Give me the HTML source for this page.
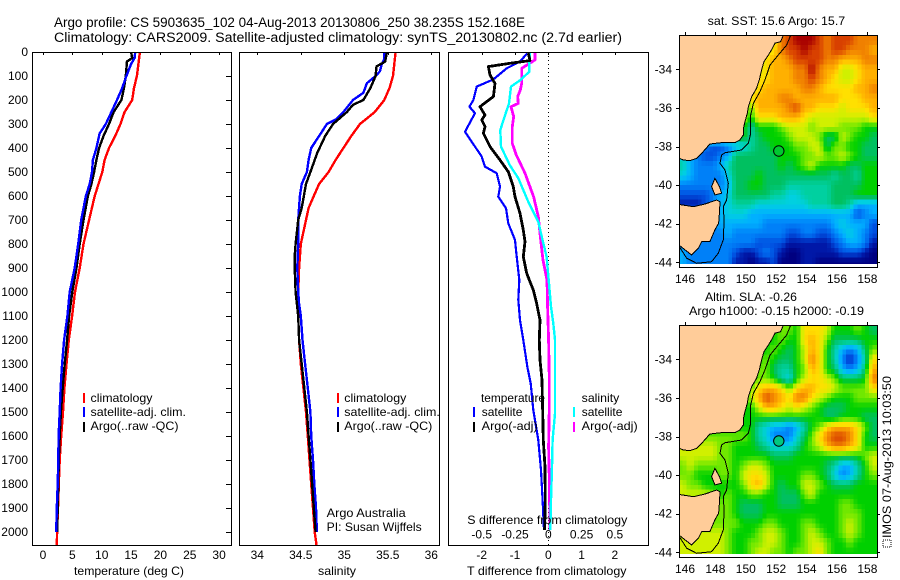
<!DOCTYPE html>
<html>
<head>
<meta charset="utf-8">
<title>Argo profile 5903635_102</title>
<style>
html,body{margin:0;padding:0;background:#fff;}
svg{display:block;font-family:"Liberation Sans",Arial,sans-serif;font-size:12px;fill:#000;}
</style>
</head>
<body>
<svg id="fig" width="900" height="580" viewBox="0 0 900 580" xmlns="http://www.w3.org/2000/svg">
<defs>
<clipPath id="clipT"><rect x="32" y="52" width="199" height="493"/></clipPath>
<clipPath id="clipS"><rect x="239" y="52" width="201" height="493"/></clipPath>
<clipPath id="clipD"><rect x="448" y="52" width="200" height="493"/></clipPath>
<clipPath id="clipM1"><rect x="679" y="35" width="198" height="229"/></clipPath>
<clipPath id="clipM2"><rect x="679" y="325" width="198" height="229"/></clipPath>
</defs>
<text x="54" y="27" font-size="13.5" textLength="471" lengthAdjust="spacingAndGlyphs">Argo profile: CS 5903635_102 04-Aug-2013 20130806_250 38.235S 152.168E</text>
<text x="54" y="42" font-size="13.5" textLength="568" lengthAdjust="spacingAndGlyphs">Climatology: CARS2009. Satellite-adjusted climatology: synTS_20130802.nc (2.7d earlier)</text>
<g id="layer"></g>
<text x="74" y="575" textLength="110" lengthAdjust="spacingAndGlyphs">temperature (deg C)</text>
<text x="318" y="575" textLength="38" lengthAdjust="spacingAndGlyphs">salinity</text>
<text x="467" y="575" textLength="159.500" lengthAdjust="spacingAndGlyphs">T difference from climatology</text>
<text x="467.300" y="524" textLength="160" lengthAdjust="spacingAndGlyphs">S difference from climatology</text>
<text x="326.700" y="517" textLength="79" lengthAdjust="spacingAndGlyphs">Argo Australia</text>
<text x="326.700" y="531" textLength="95" lengthAdjust="spacingAndGlyphs">PI: Susan Wijffels</text>
<text x="707.700" y="25" textLength="137.500" lengthAdjust="spacingAndGlyphs">sat. SST: 15.6 Argo: 15.7</text>
<text x="705" y="301" textLength="92" lengthAdjust="spacingAndGlyphs">Altim. SLA: -0.26</text>
<text x="689" y="315" textLength="175" lengthAdjust="spacingAndGlyphs">Argo h1000: -0.15 h2000: -0.19</text>
<rect x="883" y="540" width="8" height="7" fill="none" stroke="#000" stroke-width="1" stroke-dasharray="1 1"/>
<text transform="translate(891,538) rotate(-90)" textLength="162" lengthAdjust="spacingAndGlyphs">IMOS 07-Aug-2013 10:03:50</text>
</svg>
<script>
// ---------- profile data: temperature panel ----------
const tClimDepth=[0,50,100,150,200,250,300,350,400,450,500,600,700,800,900,1000,1100,1200,1300,1400,1500,1600,1700,1800,1900,2000,2054];
const tClimValue=[16.5,16.25,16,15.5,15.2,13.9,13.2,12.3,11.25,10.5,10.1,8.8,7.85,6.9,6.25,5.45,4.95,4.4,4,3.65,3.4,3.1,2.85,2.7,2.55,2.4,2.35];
const tSatDepth=[0,25,50,100,150,200,250,300,340,400,450,500,550,600,700,800,900,1000,1100,1200,1300,1400,1500,1600,1700,1800,1900,2000];
const tSatValue=[15.7,15.6,15,14.2,13.5,12.6,11.65,10.7,9.65,9.1,8.5,8.35,7.95,7.3,6.5,6,5.4,4.55,4.15,3.6,3.25,3,2.85,2.65,2.6,2.5,2.35,2.25];
const tArgoDepth=[0,25,40,70,100,150,200,250,300,350,400,450,500,550,600,700,800,900,1000,1100,1200,1300,1400,1500,1600,1700,1800,1900,2000];
const tArgoValue=[15,15.2,14.3,14.2,14.1,13.8,13.35,12.05,11.25,10.3,9.55,9.1,8.7,8.25,7.65,6.9,6.25,5.7,5,4.45,4.1,3.7,3.35,3.05,2.85,2.7,2.6,2.5,2.4];
// ---------- profile data: salinity panel ----------
const sClimDepth=[0,100,150,200,250,300,350,400,450,500,550,600,650,700,800,900,1000,1100,1200,1300,1400,1500,1600,1700,1800,1900,2000,2054];
const sClimValue=[35.59,35.56,35.52,35.46,35.35,35.18,35.08,34.99,34.9,34.82,34.71,34.65,34.59,34.56,34.5,34.48,34.47,34.47,34.48,34.5,34.53,34.56,34.58,34.6,34.62,34.64,34.66,34.68];
const sSatDepth=[0,30,50,80,100,130,170,200,250,280,300,350,400,450,500,550,600,700,800,900,1000,1050,1100,1200,1300,1400,1500,1600,1700,1800,1900,2000];
const sSatValue=[35.46,35.46,35.43,35.41,35.36,35.26,35.22,35.1,34.99,34.91,34.8,34.71,34.62,34.59,34.57,34.51,34.49,34.47,34.47,34.46,34.47,34.48,34.5,34.52,34.55,34.58,34.61,34.62,34.64,34.655,34.675,34.685];
const sArgoDepth=[0,40,60,100,150,200,220,250,300,350,420,500,550,650,700,800,850,900,1000,1100,1200,1300,1400,1500,1600,1700,1800,1900,2000];
const sArgoValue=[35.49,35.47,35.37,35.36,35.3,35.22,35.1,35.03,34.87,34.78,34.69,34.61,34.56,34.51,34.47,34.44,34.43,34.43,34.44,34.47,34.48,34.51,34.54,34.57,34.59,34.61,34.63,34.65,34.67];
// ---------- profile data: difference panel ----------
const dtSatDepth=[5,40,68,114,144,200,228,255,332,380,436,478,505,561,603,651,714,783,853,950,1033,1117,1200,1311,1381,1492,1617,1742,1867,1992];
const dtSatValue=[-0.63,-0.85,-1.25,-1.65,-2.15,-2.25,-2.37,-2.2,-2.5,-2.27,-2,-1.9,-1.55,-1.45,-1.5,-1.27,-1.2,-1,-0.95,-0.87,-0.9,-0.85,-0.75,-0.63,-0.53,-0.45,-0.3,-0.22,-0.17,-0.13];
const dtArgoDepth=[5,36,47,61,96,131,186,228,263,283,311,339,394,450,499,561,603,672,742,790,853,922,992,1047,1117,1200,1283,1367,1478,1617,1728,1867,1992];
const dtArgoValue=[-0.6,-0.55,-1.15,-1.8,-1.75,-1.6,-1.65,-2.05,-1.9,-2,-1.9,-1.95,-1.75,-1.45,-1.2,-1.05,-1,-0.85,-0.75,-0.7,-0.75,-0.65,-0.45,-0.35,-0.25,-0.27,-0.25,-0.19,-0.17,-0.15,-0.1,-0.09,-0.11];
const dsSatDepth=[5,47,82,117,144,214,255,325,394,471,526,624,707,797,853,964,1061,1131,1200,1381,1506,1617,1728,1867,1992];
const dsSatValue=[-0.1375,-0.1425,-0.1425,-0.21,-0.28,-0.295,-0.32,-0.36,-0.355,-0.29,-0.225,-0.15,-0.075,-0.0375,-0.0125,0.005,0.02,0.0375,0.05,0.05,0.05,0.0325,0.0275,0.02,0.015];
const dsArgoDepth=[5,33,68,131,158,186,214,228,269,311,381,429,505,603,686,769,867,950,1061,1200,1367,1478,1644,1783,1992];
const dsArgoValue=[-0.1,-0.1,-0.2,-0.2,-0.21,-0.23,-0.225,-0.28,-0.26,-0.27,-0.27,-0.24,-0.175,-0.11,-0.075,-0.06,-0.04,-0.01,-0.005,0.0025,0.0075,0.0075,0.0025,0.0075,0.0125];
// ---------- tick labels ----------
const depthTicks=[0,100,200,300,400,500,600,700,800,900,1000,1100,1200,1300,1400,1500,1600,1700,1800,1900,2000];
const tempTicks=[0,5,10,15,20,25,30];
const salTicks=[34,34.5,35,35.5,36];
const dtTicks=[-2,-1,0,1,2];
const dsTicks=[-0.5,-0.25,0,0.25,0.5];
const lonTicks=[146,148,150,152,154,156,158];
const latTicks=[-34,-36,-38,-40,-42,-44];
// ---------- map data (colour level per half-degree cell, north to south) ----------
const sstLevels=[
[10,10,10,10,10,10,10,10,10,10,10,10,10,13,14,15,15,15,14,13,14,14,14,13,13,13],
[10,10,10,10,10,10,10,10,10,10,10,10,11,13,14,14,15,14,14,13,14,14,13,13,13,12],
[10,10,10,10,10,10,10,10,10,10,10,11,12,12,13,14,14,14,14,13,13,12,12,12,13,13],
[10,10,10,10,10,10,10,10,10,10,10,11,12,12,12,13,13,15,13,12,12,10,10,11,12,12],
[10,10,10,10,10,10,10,10,10,10,11,11,12,12,12,13,13,14,13,12,11,10,10,11,12,12],
[10,10,10,10,10,10,10,10,10,10,11,12,12,12,12,12,13,13,12,11,11,11,11,12,12,13],
[10,10,10,10,10,10,10,10,10,11,12,12,12,13,13,12,12,12,12,12,12,11,11,11,12,12],
[10,10,10,10,10,10,10,10,10,9,12,12,12,12,13,14,12,12,11,11,11,10,11,11,11,12],
[10,10,10,10,10,10,10,10,10,8,11,11,11,12,12,12,11,10,10,10,10,10,10,10,10,11],
[8,8,8,8,8,8,8,8,8,6,8,8,8,9,10,10,10,9,10,10,10,9,9,9,8,8],
[8,8,8,8,8,8,8,8,8,6,7,8,8,8,9,10,10,10,9,7,7,10,9,8,8,7],
[3,3,3,3,2,2,3,4,5,6,7,7,8,8,8,9,9,10,10,7,9,9,8,8,7,7],
[5,4,3,2,2,3,4,7,7,7,7,7,7,8,8,8,9,9,10,9,9,10,9,8,7,7],
[6,4,3,3,3,4,6,7,7,7,7,7,7,8,7,8,9,10,8,8,8,8,7,7,8,8],
[5,4,3,3,3,3,5,7,7,7,8,7,7,7,7,7,7,7,7,7,6,7,7,6,8,8],
[3,3,3,3,3,3,4,7,7,8,8,7,7,7,6,6,6,6,6,6,7,7,7,7,8,8],
[2,2,2,2,3,4,5,7,7,7,7,7,6,6,5,5,6,6,6,6,7,7,7,8,8,8],
[1,1,1,2,3,4,5,6,6,6,5,5,5,5,5,5,5,6,6,6,7,7,6,4,4,4],
[3,3,3,3,3,4,5,5,5,4,4,4,4,4,4,4,4,4,4,4,4,4,4,2,3,4],
[3,3,3,3,3,4,4,4,4,4,4,3,3,3,3,3,3,3,3,3,4,5,4,4,4,2],
[3,3,3,3,3,3,4,3,3,3,3,3,3,3,2,2,3,3,2,2,3,4,5,4,3,2],
[3,3,3,3,3,3,3,3,3,3,2,2,2,2,1,1,1,1,1,1,2,3,4,4,3,1],
[4,3,3,3,3,3,3,2,1,1,2,3,2,1,0,0,1,1,1,1,1,2,2,2,1,0],
[4,3,3,3,3,3,3,1,1,0,1,1,2,0,0,0,1,1,0,0,0,0,0,0,0,0]];
const slaLevels=[
[8,8,8,8,8,8,8,8,8,8,8,8,8,9,9,8,11,11,11,10,8,8,8,9,8,7],
[8,8,8,8,8,8,8,8,8,8,8,8,8,9,8,8,11,12,11,9,7,7,7,7,8,8],
[8,8,8,8,8,8,8,8,8,8,8,8,9,8,7,8,10,12,11,8,6,4,3,4,7,9],
[8,8,8,8,8,8,8,8,8,8,8,9,8,7,7,8,10,13,11,8,6,3,1,3,6,11],
[8,8,8,8,8,8,8,8,8,8,9,9,7,6,6,8,9,12,11,8,7,4,3,4,7,12],
[8,8,8,8,8,8,8,8,8,8,9,9,8,6,5,8,10,11,11,10,9,7,7,7,8,13],
[8,8,8,8,8,8,8,8,8,9,11,12,12,11,9,11,12,12,11,11,10,9,9,9,9,11],
[8,8,8,8,8,8,8,8,8,10,12,14,13,12,11,13,13,11,10,9,8,8,8,9,9,9],
[8,8,8,8,8,8,8,8,8,8,10,12,12,11,10,11,10,9,8,7,7,7,8,8,8,8],
[8,8,8,8,8,8,8,8,8,8,8,8,8,8,8,8,8,8,8,7,7,8,8,8,7,7],
[8,8,8,8,8,8,8,8,8,8,6,5,4,4,3,4,6,8,9,11,12,12,12,11,9,7],
[9,9,9,9,9,9,9,9,9,8,6,5,3,3,3,5,7,9,11,13,14,14,13,11,8,7],
[10,10,10,10,10,9,9,8,8,8,7,6,5,5,5,6,8,9,10,12,13,13,12,11,8,8],
[10,10,10,10,10,9,9,8,8,8,8,8,7,7,7,8,8,8,8,8,8,8,8,8,9,10],
[9,10,9,9,9,9,9,8,9,10,10,9,8,8,8,8,8,8,8,7,6,4,4,6,8,10],
[9,9,8,8,8,9,9,8,10,11,11,10,8,8,8,8,9,9,8,7,5,3,4,6,8,9],
[10,9,9,8,8,8,8,8,9,11,12,10,8,7,8,8,10,10,9,8,7,7,7,8,8,8],
[10,10,10,10,9,8,9,8,8,9,9,8,8,7,7,7,9,10,8,8,8,8,8,8,8,8],
[9,9,9,9,9,9,9,8,7,7,7,8,8,7,7,7,8,8,8,8,8,9,9,8,8,8],
[9,9,9,9,9,9,9,8,7,7,7,8,8,8,8,8,8,8,8,8,8,9,9,9,8,8],
[9,9,9,9,9,9,9,9,8,8,8,9,9,8,8,8,9,9,8,8,8,9,10,9,8,8],
[10,10,10,10,10,10,9,8,8,8,9,10,10,9,8,8,9,10,9,8,8,9,10,9,8,8],
[10,10,10,10,10,10,9,8,8,9,9,10,10,9,8,8,9,10,10,9,8,8,9,8,8,8],
[10,10,10,10,10,10,9,8,8,9,10,10,9,9,8,9,9,10,11,9,8,8,8,8,8,8]];
const levelColors=[[0,0,128],[0,24,168],[0,80,224],[0,128,248],[0,176,255],[0,208,224],[0,208,160],[0,192,96],[0,208,0],[112,232,0],[208,240,0],[255,224,0],[255,176,0],[240,128,0],[216,64,0],[168,0,0]];
const sstMarkerLevel=7.5;
const slaMarkerLevel=6.5;
// ---------- map geography (lon / lat) ----------
const mainlandLon=[152.47,152.29,151.92,151.7,151.42,151.2,151.04,150.89,150.71,150.39,150.17,150.1,149.95,149.84,149.84,149.62,149.29,148.41,147.64,147.1,146.77,146.33,145.89,145.63,145.6];
const mainlandLat=[-32.24,-32.57,-32.65,-32.99,-33.34,-33.6,-34.03,-34.55,-34.98,-35.42,-35.93,-36.28,-36.71,-37.06,-37.4,-37.66,-37.8,-37.8,-37.87,-38.35,-38.61,-38.73,-38.7,-38.61,-32.24];
const tasmaniaLon=[145.6,146.55,147.32,148.08,148.3,148.26,148.21,147.97,147.64,147.1,146.88,146.44,146,145.6];
const tasmaniaLat=[-41,-41.12,-40.98,-40.77,-40.86,-41.46,-41.98,-42.32,-42.93,-42.93,-43.27,-43.62,-43.36,-43.1];
const flindersLon=[147.97,148.26,148.41,147.97,147.75];
const flindersLat=[-39.65,-40.08,-40.42,-40.51,-40.08];
const isobathLon=[152.95,152.69,152.14,151.59,151.26,150.93,150.5,150.32,150.32,150.17,149.73,148.63,148.41,148.3,148.63,148.85,148.74,148.52,148.57,148.52,148.19,147.75,146.77,146.11,145.63];
const isobathLat=[-32.24,-32.74,-33.26,-33.78,-34.55,-35.16,-35.76,-36.37,-37.32,-37.83,-38.18,-38.32,-38.44,-38.87,-39.22,-39.91,-40.77,-41.12,-41.81,-42.84,-43.53,-43.97,-44.05,-43.79,-43.19];
const profileLon=152.168;
const profileLat=-38.235;

const SVGNS="http://www.w3.org/2000/svg";
const layer=document.getElementById("layer");
function add(tag,attrs,name,parent){
  const el=document.createElementNS(SVGNS,tag);
  for(const k in attrs){el.setAttribute(k,attrs[k]);}
  
  
  (parent||layer).appendChild(el);
  return el;
}
function addText(str,x,y,anchor,name,parent){
  const el=add("text",{x:x,y:y,"text-anchor":anchor},name,parent);
  el.textContent=str;
  return el;
}
// axis functions
const yDepth=d=>52+d*0.24;
const xTemp=t=>43+t*5.87;
const xSal=s=>257.3+(s-34)*87;
const xDT=v=>548.3+v*33.3;
const xDS=v=>548.3+v*133.2;
const xLon=lon=>685+(lon-146)*15.2;
const yLat1=lat=>69.3+(-34-lat)*19.3;
const yLat2=lat=>359.3+(-34-lat)*19.3;

function profile(depths,values,xf,color,width,clip,name){
  const pts=depths.map((d,i)=>xf(values[i]).toFixed(1)+","+yDepth(d).toFixed(1)).join(" ");
  add("polyline",{points:pts,fill:"none",stroke:color,"stroke-width":width,"clip-path":"url(#"+clip+")","shape-rendering":"crispEdges","stroke-linejoin":"round"},name);
}
function frame(x,y,w,h,name){
  add("rect",{x:x+0.5,y:y+0.5,width:w,height:h,fill:"none",stroke:"#000","stroke-width":1,"shape-rendering":"crispEdges"},name);
}
function tick(x1,y1,x2,y2,name){
  add("line",{x1:x1,y1:y1,x2:x2,y2:y2,stroke:"#000","stroke-width":1,"shape-rendering":"crispEdges"},name);
}
function legendBar(x,y,color,name){
  add("rect",{x:x,y:y,width:2,height:10,fill:color,"shape-rendering":"crispEdges"},name);
}
function legendText(str,x,y,len,name){
  const el=addText(str,x,y,"start",name);
  el.setAttribute("textLength",len);
  el.setAttribute("lengthAdjust","spacingAndGlyphs");
}

// temperature panel
profile(tClimDepth,tClimValue,xTemp,"#ff0000",2.4,"clipT","temp-climatology-line");
profile(tArgoDepth,tArgoValue,xTemp,"#000000",2.4,"clipT","temp-argo-line");
profile(tSatDepth,tSatValue,xTemp,"#0000ff",2.4,"clipT","temp-satellite-line");
frame(32,52,199,493,"temperature-panel-frame");
tempTicks.forEach(t=>{
  tick(Math.round(xTemp(t))+0.5,52,Math.round(xTemp(t))+0.5,55,"temp-tick");
  addText(String(t),xTemp(t),559,"middle","temp-tick-label");
});
depthTicks.forEach(d=>{
  tick(226,Math.round(yDepth(d))+0.5,231,Math.round(yDepth(d))+0.5,"depth-tick");
  addText(String(d),28,yDepth(d)+4,"end","depth-tick-label");
});
legendBar(83,393,"#ff0000","legend-temp-climatology-swatch");
legendBar(83,407,"#0000ff","legend-temp-satellite-swatch");
legendBar(83,422,"#000000","legend-temp-argo-swatch");
legendText("climatology",90.5,402,62,"legend-temp-climatology");
legendText("satellite-adj. clim.",90.5,416,95.5,"legend-temp-satellite");
legendText("Argo(..raw -QC)",90.5,430,88,"legend-temp-argo");

// salinity panel
profile(sClimDepth,sClimValue,xSal,"#ff0000",2.4,"clipS","sal-climatology-line");
profile(sSatDepth,sSatValue,xSal,"#0000ff",2.4,"clipS","sal-satellite-line");
profile(sArgoDepth,sArgoValue,xSal,"#000000",2.4,"clipS","sal-argo-line");
frame(239,52,200,493,"salinity-panel-frame");
salTicks.forEach(s=>{
  tick(Math.round(xSal(s))+0.5,52,Math.round(xSal(s))+0.5,55,"sal-tick");
  addText(String(s),xSal(s),559,"middle","sal-tick-label");
});
legendBar(337,393,"#ff0000","legend-sal-climatology-swatch");
legendBar(337,407,"#0000ff","legend-sal-satellite-swatch");
legendBar(337,422,"#000000","legend-sal-argo-swatch");
legendText("climatology",344.3,402,62,"legend-sal-climatology");
legendText("satellite-adj. clim.",344.3,416,95.5,"legend-sal-satellite");
legendText("Argo(..raw -QC)",344.3,430,88,"legend-sal-argo");

// difference panel
add("line",{x1:548.5,y1:52,x2:548.5,y2:545,stroke:"#000","stroke-width":1,"stroke-dasharray":"1 3","shape-rendering":"crispEdges"},"zero-reference-line");
profile(dsArgoDepth,dsArgoValue,xDS,"#ff00ff",2.8,"clipD","sal-diff-argo-line");
profile(dsSatDepth,dsSatValue,xDS,"#00ffff",2.4,"clipD","sal-diff-satellite-line");
profile(dtSatDepth,dtSatValue,xDT,"#0000ff",2.2,"clipD","temp-diff-satellite-line");
profile(dtArgoDepth,dtArgoValue,xDT,"#000000",2.8,"clipD","temp-diff-argo-line");
frame(448,52,200,493,"difference-panel-frame");
dtTicks.forEach(v=>{
  tick(Math.round(xDT(v))+0.5,52,Math.round(xDT(v))+0.5,55,"t-diff-tick");
  addText(String(v),xDT(v),559,"middle","t-diff-tick-label");
});
dsTicks.forEach(v=>{
  addText(String(v),xDS(v),538.5,"middle","s-diff-tick-label");
});
legendText("temperature",481,402,64,"legend-diff-temperature-heading");
legendText("satellite",481.7,416,40.7,"legend-diff-temp-satellite");
legendText("Argo(-adj)",481.7,430,56,"legend-diff-temp-argo");
legendText("salinity",581.7,402,37.6,"legend-diff-salinity-heading");
legendText("satellite",581.7,416,40.7,"legend-diff-sal-satellite");
legendText("Argo(-adj)",581.7,430,56,"legend-diff-sal-argo");
legendBar(473,407,"#0000ff","legend-diff-temp-satellite-swatch");
legendBar(473,422,"#000000","legend-diff-temp-argo-swatch");
legendBar(573,407,"#00ffff","legend-diff-sal-satellite-swatch");
legendBar(573,422,"#ff00ff","legend-diff-sal-argo-swatch");

// maps
function polyPts(lons,lats,yf){
  return lons.map((l,i)=>xLon(l).toFixed(1)+","+yf(lats[i]).toFixed(1)).join(" ");
}
function levelColor(v){
  const n=levelColors.length-1;
  const t=Math.max(0,Math.min(n,v));
  const i=Math.min(n-1,Math.floor(t));
  const f=t-i;
  const a=levelColors[i],b=levelColors[i+1];
  return "rgb("+a.map((p,k)=>Math.round(p+(b[k]-p)*f)).join(",")+")";
}
function sampleLevel(levels,row,col){
  const rows=levels.length,cols=levels[0].length;
  const r=Math.max(0,Math.min(rows-1,row)),c=Math.max(0,Math.min(cols-1,col));
  const r0=Math.floor(r),c0=Math.floor(c);
  const r1=Math.min(rows-1,r0+1),c1=Math.min(cols-1,c0+1);
  const fr=r-r0,fc=c-c0;
  return (levels[r0][c0]*(1-fc)+levels[r0][c1]*fc)*(1-fr)+(levels[r1][c0]*(1-fc)+levels[r1][c1]*fc)*fr;
}
function drawMap(levels,yf,clip,top,prefix,markerLevel){
  const g=add("g",{"clip-path":"url(#"+clip+")"},prefix+"-map-area");
  const rows=levels.length,cols=levels[0].length;
  for(let r=0;r<rows*2;r++){
    for(let c=0;c<cols*2;c++){
      const lonW=145.6+c*0.25;
      const latN=-32.25-r*0.25;
      const x0=xLon(lonW),x1=xLon(lonW+0.25),y0=yf(latN),y1=yf(latN-0.25);
      const v=sampleLevel(levels,(r-0.5)/2,(c-0.5)/2);
      add("rect",{x:x0.toFixed(1),y:y0.toFixed(1),width:(x1-x0+0.3).toFixed(1),height:(y1-y0+0.3).toFixed(1),fill:levelColor(v),"shape-rendering":"crispEdges"},prefix+"-cell",g);
    }
  }
  add("polygon",{points:polyPts(mainlandLon,mainlandLat,yf),fill:"#ffcc99",stroke:"#000","stroke-width":1,"shape-rendering":"crispEdges"},prefix+"-mainland",g);
  add("polygon",{points:polyPts(tasmaniaLon,tasmaniaLat,yf),fill:"#ffcc99",stroke:"#000","stroke-width":1,"shape-rendering":"crispEdges"},prefix+"-tasmania",g);
  add("polygon",{points:polyPts(flindersLon,flindersLat,yf),fill:"#ffcc99",stroke:"#000","stroke-width":1,"shape-rendering":"crispEdges"},prefix+"-flinders-island",g);
  add("polyline",{points:polyPts(isobathLon,isobathLat,yf),fill:"none",stroke:"#000","stroke-width":1,"shape-rendering":"crispEdges"},prefix+"-isobath",g);
  add("circle",{cx:xLon(profileLon).toFixed(1),cy:yf(profileLat).toFixed(1),r:5.2,fill:levelColor(markerLevel),stroke:"#000","stroke-width":1},prefix+"-profile-marker",g);
  frame(679,top,198,232,prefix+"-map-frame");
  lonTicks.forEach(l=>{
    const x=Math.round(xLon(l))+0.5;
    tick(x,top-3,x,top,prefix+"-lon-tick");
    addText(String(l),xLon(l),top+248,"middle",prefix+"-lon-label");
  });
  latTicks.forEach(l=>{
    const y=Math.round(yf(l))+0.5;
    tick(676,y,679,y,prefix+"-lat-tick-left");
    tick(877,y,880,y,prefix+"-lat-tick-right");
    addText(String(l),672,yf(l)+4,"end",prefix+"-lat-label");
  });
}
drawMap(sstLevels,yLat1,"clipM1",35,"sst",sstMarkerLevel);
drawMap(slaLevels,yLat2,"clipM2",325,"sla",slaMarkerLevel);
</script>
</body>
</html>
